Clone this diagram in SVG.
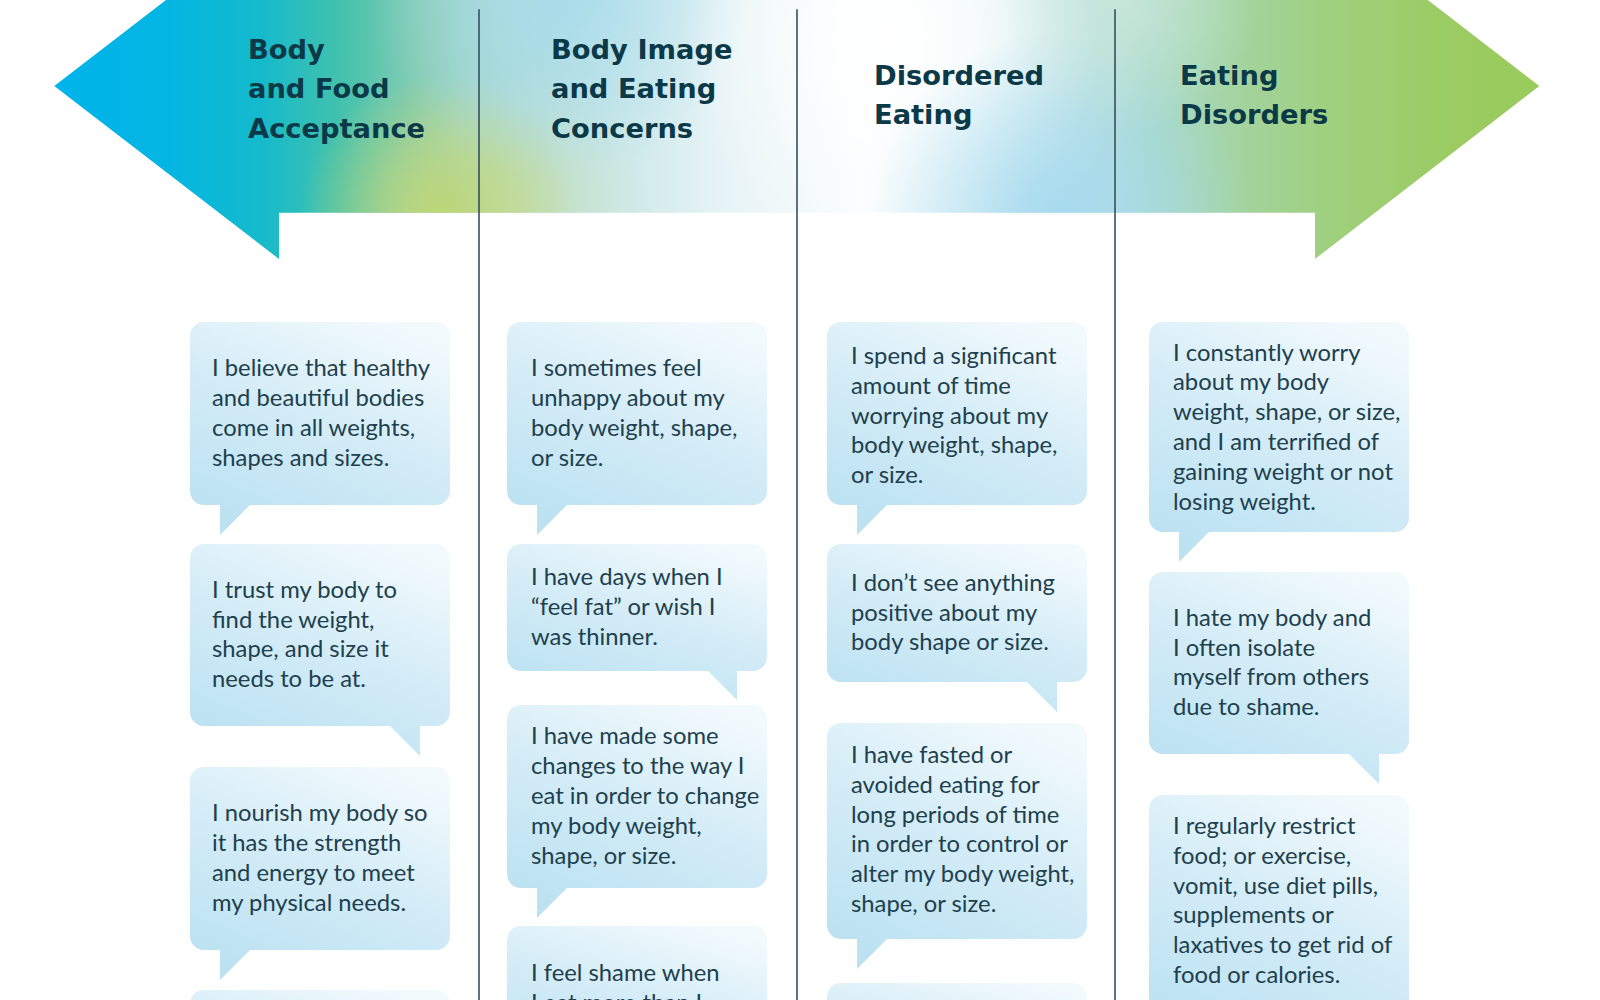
<svg xmlns="http://www.w3.org/2000/svg" width="1600" height="1000" viewBox="0 0 1600 1000">
  <style>
    .hd { font-family: "DejaVu Sans", "Liberation Sans", sans-serif; font-weight: bold; font-size: 27.3px; fill: #0b3947; }
    .tx { font-family: Lato, "Open Sans", "Noto Sans", sans-serif; font-size: 23.8px; fill: #21404e; }
    .bub { fill: url(#gBub); }
    .div { stroke: #35505d; stroke-width: 1.6; fill: none; }
  </style>
  <defs>
    <linearGradient id="gBase" gradientUnits="userSpaceOnUse" x1="54" y1="0" x2="1540" y2="0">
      <stop offset="0" stop-color="#00b3ea"/>
      <stop offset="0.078" stop-color="#03b6e2"/>
      <stop offset="0.139" stop-color="#15bacc"/>
      <stop offset="0.192" stop-color="#42c2ad"/>
      <stop offset="0.246" stop-color="#86ccb2"/>
      <stop offset="0.287" stop-color="#a6d7cc"/>
      <stop offset="0.367" stop-color="#c8e6e6"/>
      <stop offset="0.448" stop-color="#e6f3f6"/>
      <stop offset="0.542" stop-color="#fafdfe"/>
      <stop offset="0.623" stop-color="#eaf6f7"/>
      <stop offset="0.69" stop-color="#c0e3e3"/>
      <stop offset="0.738" stop-color="#a8d9c8"/>
      <stop offset="0.805" stop-color="#a3d39a"/>
      <stop offset="0.872" stop-color="#9ecf78"/>
      <stop offset="0.939" stop-color="#9bcb62"/>
      <stop offset="1" stop-color="#9acb5c"/>
    </linearGradient>
    <radialGradient id="gYG" gradientUnits="userSpaceOnUse" cx="440" cy="215" r="140">
      <stop offset="0" stop-color="#bed677" stop-opacity="1"/>
      <stop offset="0.5" stop-color="#bed677" stop-opacity="0.55"/>
      <stop offset="1" stop-color="#bed677" stop-opacity="0"/>
    </radialGradient>
    <radialGradient id="gPaleGreen2" gradientUnits="userSpaceOnUse" cx="510" cy="215" r="140">
      <stop offset="0" stop-color="#cfe2b4" stop-opacity="0.7"/>
      <stop offset="1" stop-color="#cfe2b4" stop-opacity="0"/>
    </radialGradient>
    <radialGradient id="gBlueTop" gradientUnits="userSpaceOnUse" cx="560" cy="-10" r="190">
      <stop offset="0" stop-color="#a5dbee" stop-opacity="0.85"/>
      <stop offset="1" stop-color="#a5dbee" stop-opacity="0"/>
    </radialGradient>
    <radialGradient id="gWhite" gradientUnits="userSpaceOnUse" cx="890" cy="40" r="210">
      <stop offset="0" stop-color="#ffffff" stop-opacity="1"/>
      <stop offset="1" stop-color="#ffffff" stop-opacity="0"/>
    </radialGradient>
    <radialGradient id="gBlueBot" gradientUnits="userSpaceOnUse" cx="1060" cy="220" r="190">
      <stop offset="0" stop-color="#a6daf0" stop-opacity="1"/>
      <stop offset="1" stop-color="#a6daf0" stop-opacity="0"/>
    </radialGradient>
    <radialGradient id="gPaleTop4" gradientUnits="userSpaceOnUse" cx="1130" cy="0" r="130">
      <stop offset="0" stop-color="#d0eadb" stop-opacity="0.7"/>
      <stop offset="1" stop-color="#d0eadb" stop-opacity="0"/>
    </radialGradient>
    <linearGradient id="gBub" x1="0.8" y1="0" x2="0.3" y2="1">
      <stop offset="0" stop-color="#f3fafd"/>
      <stop offset="0.5" stop-color="#d3ecf7"/>
      <stop offset="1" stop-color="#bce2f2"/>
    </linearGradient>
    <path id="arrowShape" d="M279,-87 L54.3,86 L279,259 V212.7 H1315 V259 L1539.3,86 L1315,-87 Z"/>
  </defs>

  <rect x="0" y="0" width="1600" height="1000" fill="#ffffff"/>

  <g id="header-arrow">
    <use href="#arrowShape" fill="url(#gBase)"/>
    <use href="#arrowShape" fill="url(#gPaleGreen2)"/>
    <use href="#arrowShape" fill="url(#gYG)"/>
    <use href="#arrowShape" fill="url(#gBlueTop)"/>
    <use href="#arrowShape" fill="url(#gWhite)"/>
    <use href="#arrowShape" fill="url(#gBlueBot)"/>
    <use href="#arrowShape" fill="url(#gPaleTop4)"/>
  </g>

  <g id="dividers">
    <line class="div" x1="479" y1="9.3" x2="479" y2="1000"/>
    <line class="div" x1="797" y1="9.3" x2="797" y2="1000"/>
    <line class="div" x1="1115" y1="9.3" x2="1115" y2="1000"/>
  </g>

  <g id="head-acceptance">
    <text class="hd"><tspan x="248" y="58.7">Body</tspan><tspan x="248" y="98.1">and Food</tspan><tspan x="248" y="137.5">Acceptance</tspan></text>
  </g>
  <g id="head-concerns">
    <text class="hd"><tspan x="551" y="58.7">Body Image</tspan><tspan x="551" y="98.1">and Eating</tspan><tspan x="551" y="137.5">Concerns</tspan></text>
  </g>
  <g id="head-disordered">
    <text class="hd"><tspan x="874" y="85">Disordered</tspan><tspan x="874" y="124.4">Eating</tspan></text>
  </g>
  <g id="head-disorders">
    <text class="hd"><tspan x="1180" y="85">Eating</tspan><tspan x="1180" y="124.4">Disorders</tspan></text>
  </g>

  <!-- Column 1 -->
  <g id="c1-b1">
    <path class="bub" d="M204,322 H436 A14,14 0 0 1 450,336 V491 A14,14 0 0 1 436,505 H250 L220,535 V505 H204 A14,14 0 0 1 190,491 V336 A14,14 0 0 1 204,322 Z"/>
    <text class="tx"><tspan x="212" y="376.3">I believe that healthy</tspan><tspan x="212" dy="29.8">and beautiful bodies</tspan><tspan x="212" dy="29.8">come in all weights,</tspan><tspan x="212" dy="29.8">shapes and sizes.</tspan></text>
  </g>
  <g id="c1-b2">
    <path class="bub" d="M204,544 H436 A14,14 0 0 1 450,558 V712 A14,14 0 0 1 436,726 H420 V756 L390,726 H204 A14,14 0 0 1 190,712 V558 A14,14 0 0 1 204,544 Z"/>
    <text class="tx"><tspan x="212" y="597.8">I trust my body to</tspan><tspan x="212" dy="29.8">find the weight,</tspan><tspan x="212" dy="29.8">shape, and size it</tspan><tspan x="212" dy="29.8">needs to be at.</tspan></text>
  </g>
  <g id="c1-b3">
    <path class="bub" d="M204,767 H436 A14,14 0 0 1 450,781 V936 A14,14 0 0 1 436,950 H250 L220,980 V950 H204 A14,14 0 0 1 190,936 V781 A14,14 0 0 1 204,767 Z"/>
    <text class="tx"><tspan x="212" y="821.3">I nourish my body so</tspan><tspan x="212" dy="29.8">it has the strength</tspan><tspan x="212" dy="29.8">and energy to meet</tspan><tspan x="212" dy="29.8">my physical needs.</tspan></text>
  </g>
  <g id="c1-b4">
    <rect class="bub" x="190" y="990" width="260" height="120" rx="14"/>
  </g>

  <!-- Column 2 -->
  <g id="c2-b1">
    <path class="bub" d="M521,322 H753 A14,14 0 0 1 767,336 V491 A14,14 0 0 1 753,505 H567 L537,535 V505 H521 A14,14 0 0 1 507,491 V336 A14,14 0 0 1 521,322 Z"/>
    <text class="tx"><tspan x="531" y="376.3">I sometimes feel</tspan><tspan x="531" dy="29.8">unhappy about my</tspan><tspan x="531" dy="29.8">body weight, shape,</tspan><tspan x="531" dy="29.8">or size.</tspan></text>
  </g>
  <g id="c2-b2">
    <path class="bub" d="M521,544 H753 A14,14 0 0 1 767,558 V657 A14,14 0 0 1 753,671 H737 V700 L708,671 H521 A14,14 0 0 1 507,657 V558 A14,14 0 0 1 521,544 Z"/>
    <text class="tx"><tspan x="531" y="585.2">I have days when I</tspan><tspan x="531" dy="29.8">“feel fat” or wish I</tspan><tspan x="531" dy="29.8">was thinner.</tspan></text>
  </g>
  <g id="c2-b3">
    <path class="bub" d="M521,705 H753 A14,14 0 0 1 767,719 V874 A14,14 0 0 1 753,888 H567 L537,918 V888 H521 A14,14 0 0 1 507,874 V719 A14,14 0 0 1 521,705 Z"/>
    <text class="tx"><tspan x="531" y="744.4">I have made some</tspan><tspan x="531" dy="29.8">changes to the way I</tspan><tspan x="531" dy="29.8">eat in order to change</tspan><tspan x="531" dy="29.8">my body weight,</tspan><tspan x="531" dy="29.8">shape, or size.</tspan></text>
  </g>
  <g id="c2-b4">
    <rect class="bub" x="507" y="926" width="260" height="160" rx="14"/>
    <text class="tx"><tspan x="531" y="981">I feel shame when</tspan><tspan x="531" dy="29.8">I eat more than I</tspan></text>
  </g>

  <!-- Column 3 -->
  <g id="c3-b1">
    <path class="bub" d="M841,322 H1073 A14,14 0 0 1 1087,336 V491 A14,14 0 0 1 1073,505 H887 L857,535 V505 H841 A14,14 0 0 1 827,491 V336 A14,14 0 0 1 841,322 Z"/>
    <text class="tx"><tspan x="851" y="364">I spend a significant</tspan><tspan x="851" dy="29.8">amount of time</tspan><tspan x="851" dy="29.8">worrying about my</tspan><tspan x="851" dy="29.8">body weight, shape,</tspan><tspan x="851" dy="29.8">or size.</tspan></text>
  </g>
  <g id="c3-b2">
    <path class="bub" d="M841,544 H1073 A14,14 0 0 1 1087,558 V668 A14,14 0 0 1 1073,682 H1057 V712 L1027,682 H841 A14,14 0 0 1 827,668 V558 A14,14 0 0 1 841,544 Z"/>
    <text class="tx"><tspan x="851" y="590.7">I don’t see anything</tspan><tspan x="851" dy="29.8">positive about my</tspan><tspan x="851" dy="29.8">body shape or size.</tspan></text>
  </g>
  <g id="c3-b3">
    <path class="bub" d="M841,723 H1073 A14,14 0 0 1 1087,737 V925 A14,14 0 0 1 1073,939 H887 L857,969 V939 H841 A14,14 0 0 1 827,925 V737 A14,14 0 0 1 841,723 Z"/>
    <text class="tx"><tspan x="851" y="763">I have fasted or</tspan><tspan x="851" dy="29.8">avoided eating for</tspan><tspan x="851" dy="29.8">long periods of time</tspan><tspan x="851" dy="29.8">in order to control or</tspan><tspan x="851" dy="29.8">alter my body weight,</tspan><tspan x="851" dy="29.8">shape, or size.</tspan></text>
  </g>
  <g id="c3-b4">
    <rect class="bub" x="827" y="983" width="260" height="120" rx="14"/>
  </g>

  <!-- Column 4 -->
  <g id="c4-b1">
    <path class="bub" d="M1163,322 H1395 A14,14 0 0 1 1409,336 V518 A14,14 0 0 1 1395,532 H1209 L1179,562 V532 H1163 A14,14 0 0 1 1149,518 V336 A14,14 0 0 1 1163,322 Z"/>
    <text class="tx"><tspan x="1173" y="360.5">I constantly worry</tspan><tspan x="1173" dy="29.8">about my body</tspan><tspan x="1173" dy="29.8">weight, shape, or size,</tspan><tspan x="1173" dy="29.8">and I am terrified of</tspan><tspan x="1173" dy="29.8">gaining weight or not</tspan><tspan x="1173" dy="29.8">losing weight.</tspan></text>
  </g>
  <g id="c4-b2">
    <path class="bub" d="M1163,572 H1395 A14,14 0 0 1 1409,586 V740 A14,14 0 0 1 1395,754 H1379 V784 L1349,754 H1163 A14,14 0 0 1 1149,740 V586 A14,14 0 0 1 1163,572 Z"/>
    <text class="tx"><tspan x="1173" y="625.8">I hate my body and</tspan><tspan x="1173" dy="29.8">I often isolate</tspan><tspan x="1173" dy="29.8">myself from others</tspan><tspan x="1173" dy="29.8">due to shame.</tspan></text>
  </g>
  <g id="c4-b3">
    <rect class="bub" x="1149" y="795" width="260" height="250" rx="14"/>
    <text class="tx"><tspan x="1173" y="834">I regularly restrict</tspan><tspan x="1173" dy="29.8">food; or exercise,</tspan><tspan x="1173" dy="29.8">vomit, use diet pills,</tspan><tspan x="1173" dy="29.8">supplements or</tspan><tspan x="1173" dy="29.8">laxatives to get rid of</tspan><tspan x="1173" dy="29.8">food or calories.</tspan></text>
  </g>
</svg>
